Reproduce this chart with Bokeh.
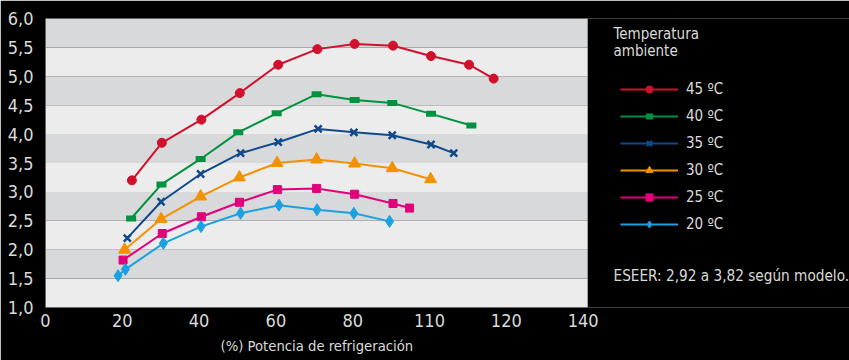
from bokeh.plotting import figure
from bokeh.models import (Range1d, FixedTicker, Legend, LegendItem, Label, Title, ColumnDataSource)
from bokeh.embed import file_html
from bokeh.resources import INLINE

# ---------------- data ----------------
x_ticks = [0, 20, 40, 60, 80, 100, 120, 140]
x_tick_labels = ["0", "20", "40", "60", "80", "110", "120", "140"]
y_ticks = [1.0, 1.5, 2.0, 2.5, 3.0, 3.5, 4.0, 4.5, 5.0, 5.5, 6.0]
y_tick_labels = ["1,0", "1,5", "2,0", "2,5", "3,0", "3,5", "4,0", "4,5", "5,0", "5,5", "6,0"]

x45 = [22.5, 30.3, 40.6, 50.6, 60.6, 70.8, 80.5, 90.5, 100.4, 110.3, 116.7]
y45 = [3.20, 3.85, 4.25, 4.71, 5.20, 5.47, 5.56, 5.53, 5.35, 5.20, 4.96]

x40 = [22.3, 30.2, 40.4, 50.2, 60.2, 70.6, 80.5, 90.3, 100.4, 110.9]
y40 = [2.54, 3.13, 3.57, 4.03, 4.36, 4.69, 4.59, 4.54, 4.35, 4.15]

x35 = [21.3, 30.1, 40.4, 50.8, 60.6, 71.0, 80.3, 90.3, 100.4, 106.3]
y35 = [2.20, 2.83, 3.31, 3.67, 3.86, 4.09, 4.03, 3.98, 3.82, 3.67]

x30 = [20.6, 30.1, 40.4, 50.5, 60.3, 70.6, 80.5, 90.3, 100.3]
y30 = [2.00, 2.53, 2.92, 3.25, 3.50, 3.56, 3.49, 3.41, 3.22]

x25 = [20.2, 30.4, 40.6, 50.5, 60.4, 70.6, 80.5, 90.5, 94.8]
y25 = [1.82, 2.28, 2.57, 2.82, 3.04, 3.06, 2.96, 2.80, 2.72]

x20 = [18.9, 20.8, 30.7, 40.5, 50.8, 60.8, 70.7, 80.3, 89.6]
y20 = [1.55, 1.66, 2.11, 2.40, 2.63, 2.77, 2.69, 2.63, 2.49]

series_labels = ["45 ºC", "40 ºC", "35 ºC", "30 ºC", "25 ºC", "20 ºC"]
legend_title = ["Temperatura", "ambiente"]
note_text = "ESEER: 2,92 a 3,82 según modelo."
x_title = "(%) Potencia de refrigeración"

band_bottoms = [1.0, 1.5, 2.0, 2.5, 3.0, 3.5, 4.0, 4.5, 5.0, 5.5]

# ---------------- style ----------------
FONT = "'DejaVu Sans Condensed', sans-serif"
TXT = "#dadada"
BG = "#000000"
BAND_DARK = "#d8d9db"
BAND_LIGHT = "#ebeceb"
C45, C40, C35, C30, C25, C20 = "#d0102c", "#009240", "#104a8b", "#f39200", "#e2007a", "#1ba0e2"

W, H = 849, 360
LEFT, TOP, BOTTOM = 45, 18, 53
PX_PER_UNIT = 3.84          # horizontal scale of the plot area
BAND_END = 141.2            # shaded area ends here (x units)
XEND = (W - LEFT) / PX_PER_UNIT   # frame runs to the right edge; legend lives inside it

p = figure(width=W, height=H, min_border_left=LEFT, min_border_top=TOP,
           min_border_right=0, min_border_bottom=BOTTOM,
           x_range=Range1d(0, XEND), y_range=Range1d(1, 6),
           output_backend="svg", toolbar_location=None,
           background_fill_color=BG, border_fill_color=BG, outline_line_color=None)
p.grid.visible = False

# bands
band_src = ColumnDataSource(dict(
    bottom=band_bottoms,
    top=[b + 0.5 for b in band_bottoms],
    color=[BAND_LIGHT if i % 2 == 0 else BAND_DARK for i in range(len(band_bottoms))],
))
p.quad(left=0, right=BAND_END, bottom="bottom", top="top", fill_color="color",
       line_color=None, source=band_src)

# axes
for ax in (p.xaxis[0], p.yaxis[0]):
    ax.axis_line_color = None
    ax.major_tick_line_color = None
    ax.minor_tick_line_color = None
    ax.major_tick_in = 0
    ax.major_tick_out = 0
    ax.major_label_text_font = FONT
    ax.major_label_text_font_size = "18px"
    ax.major_label_text_color = TXT

p.xaxis.ticker = FixedTicker(ticks=x_ticks)
p.xaxis.major_label_overrides = dict(zip(x_ticks, x_tick_labels))
p.xaxis.major_label_standoff = 6

p.yaxis.ticker = FixedTicker(ticks=y_ticks)
p.yaxis.major_label_overrides = dict(zip(y_ticks, y_tick_labels))
p.yaxis.major_label_standoff = 12

# x title, centred under the shaded area
p.add_layout(Title(text=x_title, align="left", offset=175, standoff=10,
                   text_font=FONT, text_font_size="14.7px", text_font_style="normal",
                   text_color=TXT), "below")

LW = 2
c = C45
l45 = p.line(x45, y45, line_color=c, line_width=LW)
m45 = p.scatter(x45, y45, marker="circle", size=9, fill_color=c, line_color=c)
c = C40
l40 = p.line(x40, y40, line_color=c, line_width=LW)
m40 = p.scatter(x40, y40, marker="dash", size=10, line_color=c, line_width=6)
c = C35
l35 = p.line(x35, y35, line_color=c, line_width=LW)
m35 = p.scatter(x35, y35, marker="x", size=10, line_color=c, line_width=2.5)
c = C30
l30 = p.line(x30, y30, line_color=c, line_width=LW)
m30 = p.scatter(x30, y30, marker="triangle", size=12, fill_color=c, line_color=c)
c = C25
l25 = p.line(x25, y25, line_color=c, line_width=LW)
m25 = p.scatter(x25, y25, marker="square", size=8, fill_color=c, line_color=c)
c = C20
l20 = p.line(x20, y20, line_color=c, line_width=LW)
m20 = p.scatter(x20, y20, marker="diamond", size=12, fill_color=c, line_color=c)

pairs = [(l45, m45), (l40, m40), (l35, m35), (l30, m30), (l25, m25), (l20, m20)]
items = [LegendItem(label=lab, renderers=[l, m]) for lab, (l, m) in zip(series_labels, pairs)]

# legend inside the (wide, black) frame, to the right of the shaded area
legend = Legend(items=items, location=(575, 74), padding=0, margin=0, spacing=9,
                glyph_width=58, glyph_height=18, label_height=18, label_standoff=8,
                label_text_font=FONT, label_text_font_size="15px", label_text_color=TXT,
                background_fill_alpha=0, border_line_color=None)
p.add_layout(legend)

for txt, yy in zip(legend_title, [274, 256.3]):
    p.add_layout(Label(x=568, y=yy, x_units="screen", y_units="screen", text=txt,
                       text_font=FONT, text_font_size="15px", text_color=TXT,
                       text_align="left", text_baseline="middle"))

p.add_layout(Label(x=568, y=31.7, x_units="screen", y_units="screen", text=note_text,
                   text_font=FONT, text_font_size="15.2px", text_color=TXT,
                   text_align="left", text_baseline="middle"))

open("out.html", "w").write(file_html(p, INLINE))
